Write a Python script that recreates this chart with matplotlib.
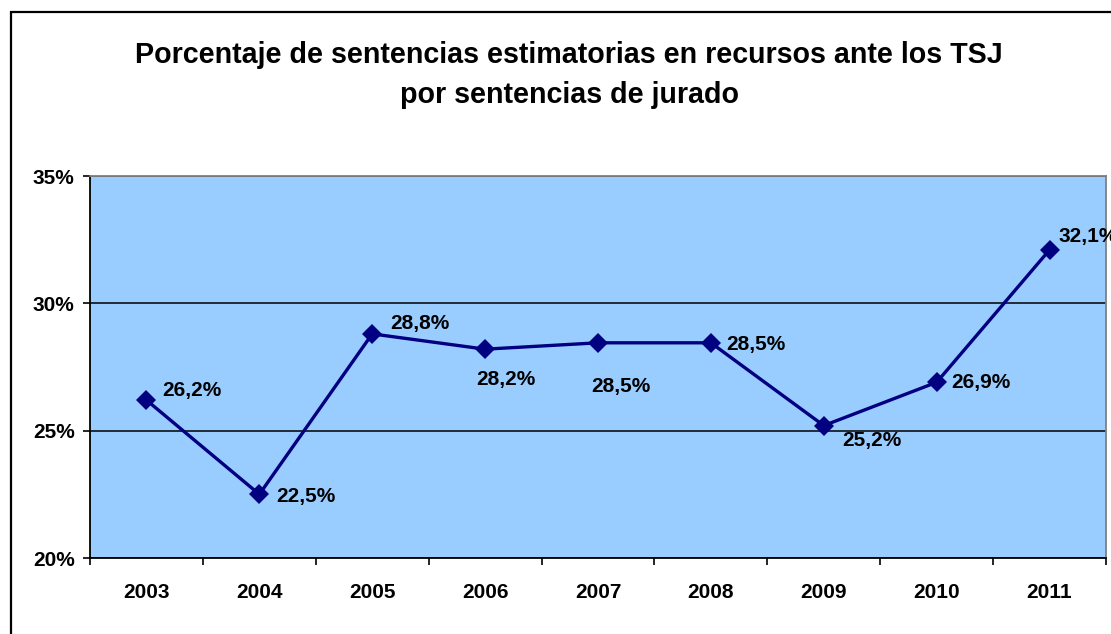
import matplotlib
matplotlib.use("Agg")
import matplotlib.pyplot as plt
from matplotlib.patches import Rectangle
from matplotlib.ticker import FixedLocator, NullFormatter

years = ["2003", "2004", "2005", "2006", "2007", "2008", "2009", "2010", "2011"]
values = [26.2, 22.5, 28.8, 28.2, 28.45, 28.45, 25.2, 26.9, 32.1]
labels = ["26,2%", "22,5%", "28,8%", "28,2%", "28,5%", "28,5%", "25,2%", "26,9%", "32,1%"]
yticks = [20, 25, 30, 35]
ytick_labels = ["20%", "25%", "30%", "35%"]
title_lines = ["Porcentaje de sentencias estimatorias en recursos ante los TSJ",
               "por sentencias de jurado"]

# label offsets in pixels (dx, dy) and horizontal alignment
offsets = [(16, 10, "left"), (17, -2, "left"), (18, 10, "left"),
           (21, -30, "center"), (23, -44, "center"), (15, -2, "left"),
           (18, -15, "left"), (15, 0, "left"), (9, 13, "left")]

plt.rcParams['font.family'] = ['Liberation Sans', 'DejaVu Sans']
plt.rcParams['font.weight'] = 'bold'

W, H = 1111, 634
fig = plt.figure(figsize=(W / 100, H / 100), dpi=100)
fig.patch.set_facecolor("white")

# outer chart border
fig.add_artist(Rectangle((10.5 / W, -0.2), 1.5, 1.2 - 11.5 / H, transform=fig.transFigure,
                         fill=False, edgecolor="black", linewidth=1.6))

ax = fig.add_axes([90 / W, 1 - 558 / H, (1106 - 90) / W, (558 - 176) / H])
ax.set_facecolor("#99CCFF")

x = list(range(len(years)))
ax.plot(x, values, color="#000080", linewidth=2.4, marker="D", markersize=10.5,
        markeredgewidth=0, markerfacecolor="#000080", zorder=3, clip_on=False)

for xi, v, lab, (dx, dy, ha) in zip(x, values, labels, offsets):
    ax.annotate(lab, (xi, v), xytext=(dx * 0.72, dy * 0.72), textcoords="offset points",
                ha=ha, va="center", fontsize=15, fontweight="bold", color="black", zorder=4,
                annotation_clip=False)

ax.set_xlim(-0.5, len(years) - 0.5)
ax.set_ylim(20, 35)
ax.set_yticks(yticks)
ax.set_yticklabels(ytick_labels)
ax.set_xticks(x)
ax.set_xticklabels(years)
ax.xaxis.set_minor_locator(FixedLocator([i - 0.5 for i in range(len(years) + 1)]))
ax.xaxis.set_minor_formatter(NullFormatter())
ax.tick_params(axis="x", which="major", length=0, pad=18, labelsize=15)
ax.tick_params(axis="x", which="minor", length=5, width=1.2, direction="out", color="black")
ax.tick_params(axis="y", length=5, width=1.2, direction="out", pad=6, labelsize=15, color="black")
for t in ax.get_xticklabels() + ax.get_yticklabels():
    t.set_fontweight("bold")

ax.grid(axis="y", color="black", linewidth=1.1, zorder=1)
ax.set_axisbelow(True)
for side in ("left", "bottom"):
    ax.spines[side].set_color("black")
    ax.spines[side].set_linewidth(1.3)
for side in ("top", "right"):
    ax.spines[side].set_color("#808080")
    ax.spines[side].set_linewidth(1.3)

cx = 569 / W
fig.text(cx, 1 - 63 / H, title_lines[0], ha="center", va="baseline",
         fontsize=20.6, fontweight="bold")
fig.text(cx, 1 - 103 / H, title_lines[1], ha="center", va="baseline",
         fontsize=20.6, fontweight="bold")

fig.savefig("out.png", dpi=100)
